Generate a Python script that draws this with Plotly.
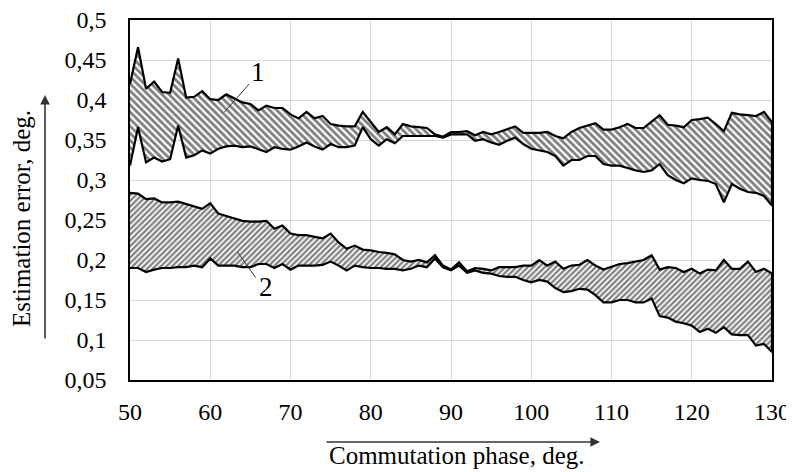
import plotly.graph_objects as go

# ---- data ----
phase = list(range(50, 131))

upper_1 = [0.420, 0.466, 0.414, 0.423, 0.410, 0.409, 0.452, 0.403, 0.404, 0.411,
           0.401, 0.400, 0.407, 0.402, 0.397, 0.395, 0.387, 0.393, 0.390, 0.390,
           0.382, 0.377, 0.385, 0.377, 0.380, 0.370, 0.368, 0.367, 0.367, 0.385,
           0.372, 0.360, 0.366, 0.357, 0.370, 0.367, 0.366, 0.365, 0.357, 0.354,
           0.360, 0.360, 0.361, 0.356, 0.360, 0.357, 0.360, 0.364, 0.367, 0.359,
           0.359, 0.359, 0.360, 0.355, 0.352, 0.360, 0.365, 0.368, 0.371, 0.363,
           0.363, 0.366, 0.370, 0.365, 0.365, 0.373, 0.381, 0.369, 0.368, 0.366,
           0.375, 0.376, 0.378, 0.370, 0.361, 0.384, 0.382, 0.381, 0.380, 0.385,
           0.372]

lower_1 = [0.318, 0.366, 0.322, 0.328, 0.323, 0.326, 0.368, 0.328, 0.331, 0.337,
           0.333, 0.339, 0.342, 0.343, 0.341, 0.342, 0.339, 0.335, 0.341, 0.339,
           0.338, 0.342, 0.347, 0.342, 0.338, 0.345, 0.341, 0.341, 0.343, 0.366,
           0.351, 0.343, 0.351, 0.346, 0.355, 0.355, 0.355, 0.355, 0.355, 0.353,
           0.357, 0.357, 0.357, 0.349, 0.351, 0.347, 0.344, 0.349, 0.353, 0.345,
           0.339, 0.337, 0.335, 0.330, 0.318, 0.325, 0.325, 0.330, 0.330, 0.320,
           0.318, 0.318, 0.315, 0.312, 0.310, 0.312, 0.320, 0.306, 0.300, 0.296,
           0.302, 0.300, 0.299, 0.295, 0.272, 0.295, 0.289, 0.285, 0.284, 0.280,
           0.268]

upper_2 = [0.284, 0.283, 0.276, 0.277, 0.272, 0.272, 0.273, 0.270, 0.267, 0.264,
           0.271, 0.258, 0.255, 0.252, 0.249, 0.248, 0.248, 0.249, 0.239, 0.243,
           0.233, 0.231, 0.231, 0.229, 0.227, 0.233, 0.222, 0.214, 0.218, 0.213,
           0.212, 0.210, 0.209, 0.207, 0.200, 0.198, 0.200, 0.197, 0.206, 0.193,
           0.188, 0.197, 0.186, 0.190, 0.189, 0.187, 0.191, 0.191, 0.191, 0.193,
           0.193, 0.200, 0.193, 0.198, 0.189, 0.193, 0.194, 0.200, 0.193, 0.188,
           0.192, 0.195, 0.196, 0.198, 0.200, 0.206, 0.188, 0.191, 0.190, 0.185,
           0.189, 0.183, 0.188, 0.187, 0.200, 0.189, 0.189, 0.198, 0.185, 0.189,
           0.183]

lower_2 = [0.190, 0.190, 0.185, 0.188, 0.190, 0.190, 0.191, 0.191, 0.193, 0.191,
           0.202, 0.193, 0.193, 0.193, 0.191, 0.191, 0.195, 0.195, 0.190, 0.195,
           0.188, 0.193, 0.193, 0.193, 0.194, 0.198, 0.193, 0.187, 0.193, 0.191,
           0.190, 0.190, 0.189, 0.189, 0.187, 0.189, 0.193, 0.191, 0.202, 0.191,
           0.187, 0.193, 0.184, 0.187, 0.184, 0.183, 0.180, 0.179, 0.179, 0.175,
           0.172, 0.175, 0.173, 0.165, 0.160, 0.161, 0.164, 0.163, 0.156, 0.147,
           0.147, 0.150, 0.150, 0.147, 0.147, 0.152, 0.130, 0.128, 0.123, 0.121,
           0.118, 0.110, 0.114, 0.109, 0.116, 0.107, 0.106, 0.106, 0.093, 0.095,
           0.085]

x_ticks = [50, 60, 70, 80, 90, 100, 110, 120, 130]
x_tick_labels = ["50", "60", "70", "80", "90", "100", "110", "120", "130"]
y_ticks = [0.05, 0.1, 0.15, 0.2, 0.25, 0.3, 0.35, 0.4, 0.45, 0.5]
y_tick_labels = ["0,05", "0,1", "0,15", "0,2", "0,25", "0,3", "0,35", "0,4", "0,45", "0,5"]

x_title = "Commutation phase, deg."
y_title = "Estimation error, deg."

FONT = "Liberation Serif"

fig = go.Figure()


def band(upper, lower, shape, size):
    fig.add_trace(go.Scatter(
        x=phase + phase[::-1],
        y=upper + lower[::-1],
        mode="lines",
        fill="toself",
        fillcolor="white",
        fillpattern=dict(shape=shape, fgcolor="black", bgcolor="white",
                         size=size, solidity=0.55),
        line=dict(color="black", width=2.2),
        hoverinfo="skip",
        showlegend=False,
    ))


band(upper_1, lower_1, "\\", 5)
band(upper_2, lower_2, "/", 4)

# band labels with leader lines
fig.add_annotation(x=65.9, y=0.435, text="1", showarrow=False,
                   font=dict(family=FONT, size=27, color="black"))
fig.add_shape(type="line", x0=64.85, y0=0.420, x1=61.74, y1=0.3846,
              line=dict(color="#333333", width=1))
fig.add_annotation(x=66.9, y=0.166, text="2", showarrow=False,
                   font=dict(family=FONT, size=27, color="black"))
fig.add_shape(type="line", x0=63.4, y0=0.210, x1=65.66, y1=0.178,
              line=dict(color="#333333", width=1))

# plot area in page pixels: left 130, right 772, top 20, bottom 380
PL, PW, PB, PH = 130, 642, 380, 360


def px(xp):
    return (xp - PL) / PW


def py(yp):
    return (PB - yp) / PH


# axis titles with arrows
fig.add_annotation(xref="paper", yref="paper", x=px(457), y=py(455),
                   xanchor="center", yanchor="middle",
                   text=x_title, showarrow=False,
                   font=dict(family=FONT, size=25, color="black"))
fig.add_annotation(xref="paper", yref="paper", x=px(600), y=py(442),
                   ax=-275, ay=0, axref="pixel", ayref="pixel", text="",
                   showarrow=True, arrowhead=2, arrowsize=1.2, arrowwidth=1.6,
                   arrowcolor="#333333")
fig.add_annotation(xref="paper", yref="paper", x=px(21), y=py(219),
                   xanchor="center", yanchor="middle",
                   text=y_title, showarrow=False, textangle=-90,
                   font=dict(family=FONT, size=25, color="black"))
fig.add_annotation(xref="paper", yref="paper", x=px(45), y=py(95),
                   ax=0, ay=245, axref="pixel", ayref="pixel", text="",
                   showarrow=True, arrowhead=2, arrowsize=1.2, arrowwidth=1.6,
                   arrowcolor="#333333")

axis_common = dict(showgrid=True, gridcolor="#d9d9d9", gridwidth=1.4,
                   showline=True, linecolor="black", linewidth=1.5, mirror=True,
                   ticks="", zeroline=False, automargin=False,
                   ticklabeloverflow="allow",
                   tickfont=dict(family=FONT, size=24, color="black"))

fig.update_xaxes(range=[50, 130], tickvals=x_ticks, ticktext=x_tick_labels,
                 ticklabelstandoff=9, **axis_common)
fig.update_yaxes(range=[0.05, 0.5], tickvals=y_ticks, ticktext=y_tick_labels,
                 ticklabelstandoff=17, **axis_common)

# the page body adds an 8px offset; figure is sized so that the plot area
# lands at the reference pixel positions inside the 794x472 window
fig.update_layout(
    width=786, height=464,
    margin=dict(l=122, r=22, t=12, b=92, autoexpand=False),
    paper_bgcolor="white", plot_bgcolor="white",
    showlegend=False,
)

fig.write_html("out.html", config={"displayModeBar": False})
